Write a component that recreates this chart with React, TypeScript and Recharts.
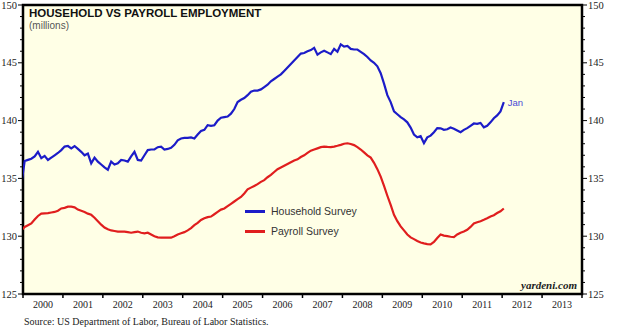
import React from 'react';
import { LineChart, Line, XAxis, YAxis, ReferenceArea } from 'recharts';

// monthly, Dec 1999 .. Jan 2012 (millions)
const household = [
  134.5,
  136.5, 136.6, 136.7, 136.9, 137.3, 136.75, 136.95, 136.6, 136.8, 137.0, 137.2, 137.45,
  137.75, 137.8, 137.6, 137.8, 137.55, 137.3, 137.0, 137.15, 136.3, 136.8, 136.45, 136.2,
  135.95, 135.75, 136.45, 136.2, 136.3, 136.6, 136.55, 136.45, 136.9, 137.3, 136.6, 136.55,
  137.0, 137.45, 137.5, 137.5, 137.7, 137.75, 137.5, 137.55, 137.65, 137.9, 138.3, 138.45,
  138.5, 138.5, 138.55, 138.45, 138.8, 139.1, 139.2, 139.6, 139.55, 139.6, 140.0, 140.25,
  140.3, 140.35, 140.6, 141.0, 141.6, 141.8, 141.95, 142.2, 142.5, 142.6, 142.6, 142.7,
  142.9, 143.1, 143.4, 143.6, 143.8, 144.0, 144.3, 144.6, 144.9, 145.2, 145.5, 145.8,
  145.85, 146.0, 146.1, 146.3, 145.7, 145.9, 146.05, 145.9, 145.75, 146.2, 145.95, 146.6,
  146.4, 146.45, 146.2, 146.15, 146.15, 145.95, 145.75, 145.5, 145.2, 145.0, 144.7, 144.1,
  143.2, 142.2, 141.6, 140.8, 140.55, 140.3, 140.1, 139.85, 139.4, 138.8, 138.55, 138.65,
  138.05, 138.55, 138.7, 139.0, 139.35, 139.33, 139.2, 139.25, 139.4, 139.3, 139.15, 139.0,
  139.2, 139.35, 139.55, 139.75, 139.72, 139.8, 139.42, 139.55, 139.85, 140.2, 140.45, 140.8,
  141.6,
];

const payroll = [
  130.5,
  130.8, 130.95, 131.1, 131.45, 131.75, 131.95, 131.98, 132.0, 132.05, 132.1, 132.2, 132.4,
  132.45, 132.55, 132.55, 132.5, 132.3, 132.2, 132.1, 131.95, 131.85, 131.6, 131.3, 131.0,
  130.75, 130.6, 130.5, 130.45, 130.4, 130.4, 130.4, 130.35, 130.3, 130.35, 130.4, 130.3,
  130.25, 130.3, 130.15, 130.0, 129.9, 129.87, 129.87, 129.87, 129.87, 130.0, 130.15, 130.25,
  130.35, 130.5, 130.7, 130.95, 131.15, 131.4, 131.55, 131.65, 131.7, 131.9, 132.1, 132.3,
  132.4, 132.6, 132.8, 133.0, 133.2, 133.4, 133.7, 134.05, 134.2, 134.35, 134.5, 134.7,
  134.85, 135.1, 135.3, 135.55, 135.8, 135.95, 136.1, 136.25, 136.4, 136.55, 136.65, 136.85,
  137.0, 137.2, 137.4, 137.5, 137.6, 137.7, 137.75, 137.72, 137.7, 137.75, 137.82, 137.9,
  138.0, 138.04, 137.98, 137.88, 137.7, 137.5, 137.25, 137.0, 136.8, 136.35, 135.8, 135.15,
  134.35, 133.5, 132.7, 131.85, 131.3, 130.85, 130.5, 130.15, 129.9, 129.75, 129.58, 129.45,
  129.38, 129.32, 129.3, 129.5, 129.85, 130.15, 130.05, 130.0, 129.95, 129.92, 130.15, 130.3,
  130.4, 130.55, 130.8, 131.1, 131.2, 131.3, 131.42, 131.55, 131.7, 131.82, 132.0, 132.15,
  132.4,
];

const years = [2000, 2001, 2002, 2003, 2004, 2005, 2006, 2007, 2008, 2009, 2010, 2011, 2012, 2013];
const yLabels = [125, 130, 135, 140, 145, 150];

const BLUE = '#1c1cc8';
const RED = '#e01e1e';
const SERIF = '"Liberation Serif", "Times New Roman", serif';
const SANS = '"Liberation Sans", Arial, sans-serif';

const chartData = household.map((h, i) => ({
  t: 2000 + (i - 0.5) / 12,
  household: h,
  payroll: payroll[i],
}));

// year boundaries get a tick mark, mid-years carry the label
const xTicks = [...years, 2014, ...years.map((y) => y + 0.5)];
const yTicks: number[] = [];
for (let v = 125; v <= 150; v++) yTicks.push(v);

const XTick = (props: any) => {
  const { x, y, payload } = props;
  const v = payload.value;
  if (Number.isInteger(v)) {
    return <line x1={x} x2={x} y1={y} y2={y + 4} stroke="#000" strokeWidth={1.5} />;
  }
  return (
    <text x={x} y={y + 14} textAnchor="middle" fontSize={10} fill="#222" fontFamily={SERIF}>
      {Math.floor(v)}
    </text>
  );
};

const YTickLeft = (props: any) => {
  const { x, y, payload } = props;
  const major = yLabels.includes(payload.value);
  return (
    <g>
      <line x1={x - (major ? 5 : 3)} x2={x} y1={y} y2={y} stroke="#000" strokeWidth={1} />
      {major && (
        <text x={x - 6} y={y + 3.5} textAnchor="end" fontSize={10.5} fill="#222" fontFamily={SERIF}>
          {payload.value}
        </text>
      )}
    </g>
  );
};

const YTickRight = (props: any) => {
  const { x, y, payload } = props;
  const major = yLabels.includes(payload.value);
  return (
    <g>
      <line x1={x} x2={x + (major ? 5 : 3)} y1={y} y2={y} stroke="#000" strokeWidth={1} />
      {major && (
        <text x={x + 6} y={y + 3.5} textAnchor="start" fontSize={10.5} fill="#222" fontFamily={SERIF}>
          {payload.value}
        </text>
      )}
    </g>
  );
};

const lastIndex = household.length - 1;
const JanLabel = (props: any) => {
  const { x, y, index } = props;
  if (index !== lastIndex) return null;
  return (
    <text x={x + 4} y={y + 3.5} fontSize={9.5} fill="#4a4ad6" fontFamily={SANS}>
      Jan
    </text>
  );
};

export default function App() {
  return (
    <div style={{ position: 'absolute', left: 0, top: 0, width: 620, height: 333, background: '#fff' }}>
      <LineChart
        width={620}
        height={333}
        data={chartData}
        margin={{ top: 5, right: 0, bottom: 0, left: 0 }}
      >
        <XAxis
          dataKey="t"
          type="number"
          domain={[2000, 2014]}
          allowDataOverflow
          ticks={xTicks}
          interval={0}
          tick={<XTick />}
          tickSize={0}
          tickMargin={0}
          axisLine={false}
          tickLine={false}
          height={39}
        />
        <YAxis
          yAxisId="left"
          domain={[125, 150]}
          ticks={yTicks}
          interval={0}
          tick={<YTickLeft />}
          tickSize={0}
          tickMargin={0}
          axisLine={false}
          tickLine={false}
          width={23}
        />
        <YAxis
          yAxisId="right"
          orientation="right"
          domain={[125, 150]}
          ticks={yTicks}
          interval={0}
          tick={<YTickRight />}
          tickSize={0}
          tickMargin={0}
          axisLine={false}
          tickLine={false}
          width={38}
        />
        <ReferenceArea
          yAxisId="left"
          x1={2000}
          x2={2014}
          y1={125}
          y2={150}
          fill="#ffffe6"
          fillOpacity={1}
          stroke="#000"
          strokeWidth={2.5}
          ifOverflow="visible"
        />
        <Line
          yAxisId="right"
          dataKey="payroll"
          stroke={RED}
          strokeWidth={2.2}
          dot={false}
          isAnimationActive={false}
        />
        <Line
          yAxisId="left"
          dataKey="household"
          stroke={BLUE}
          strokeWidth={2.2}
          dot={false}
          label={<JanLabel />}
          isAnimationActive={false}
        />
      </LineChart>

      <div style={{ position: 'absolute', left: 29, top: 7, fontFamily: SANS, fontWeight: 'bold', fontSize: 11.5, color: '#111' }}>
        HOUSEHOLD VS PAYROLL EMPLOYMENT
      </div>
      <div style={{ position: 'absolute', left: 29, top: 20, fontFamily: SANS, fontSize: 10, color: '#555' }}>
        (millions)
      </div>

      <div style={{ position: 'absolute', left: 245, top: 205, fontFamily: SANS, fontSize: 10.5, color: '#333', lineHeight: '12px' }}>
        <div style={{ display: 'flex', alignItems: 'center', height: 12 }}>
          <span style={{ display: 'inline-block', width: 20, height: 3, background: BLUE, marginRight: 6 }} />
          Household Survey
        </div>
        <div style={{ display: 'flex', alignItems: 'center', height: 12, marginTop: 8 }}>
          <span style={{ display: 'inline-block', width: 20, height: 3, background: RED, marginRight: 6 }} />
          Payroll Survey
        </div>
      </div>

      <div style={{ position: 'absolute', right: 43, top: 279, fontFamily: SERIF, fontStyle: 'italic', fontWeight: 'bold', fontSize: 11, color: '#222' }}>
        yardeni.com
      </div>
      <div style={{ position: 'absolute', left: 24, top: 316, fontFamily: SERIF, fontSize: 10, color: '#222' }}>
        Source: US Department of Labor, Bureau of Labor Statistics.
      </div>
    </div>
  );
}
